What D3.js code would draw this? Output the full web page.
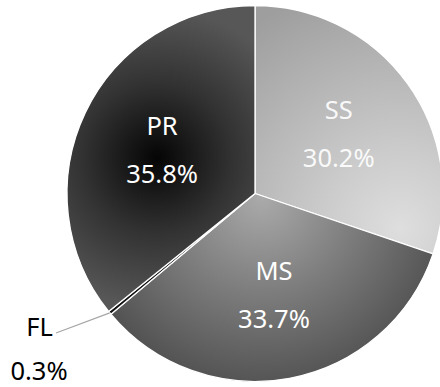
<!DOCTYPE html>
<html><head><meta charset="utf-8">
<script src="https://cdn.jsdelivr.net/npm/d3@7"></script>
<style>html,body{margin:0;padding:0;background:#fff;}svg{display:block;}</style>
</head><body>
<script>
const categories = ["SS", "MS", "FL", "PR"];
const values = [30.2, 33.7, 0.3, 35.8];
const valueLabels = ["30.2%", "33.7%", "0.3%", "35.8%"];

const W = 440, H = 387, cx = 255, cy = 193.5, R = 188;
const svg = d3.select("body").append("svg").attr("width", W).attr("height", H);
const defs = svg.append("defs");

// gradient centres in page pixels; converted to the pie's local space below
const grads = {
  SS: {x: 400, y: 228, r: 250, stops: [[0, "#dedede"], [0.3, "#cccccc"], [1, "#9e9e9e"]]},
  MS: {x: 262, y: 198, r: 215, stops: [[0, "#aaaaaa"], [0.45, "#7c7c7c"], [1, "#474747"]]},
  FL: {x: 110, y: 313, r: 100, stops: [[0, "#111"], [1, "#111"]]},
  PR: {x: 157, y: 158, r: 150, stops: [[0, "#050505"], [0.5, "#323232"], [1, "#575757"]]}
};
categories.forEach(c => {
  const g = grads[c];
  const rg = defs.append("radialGradient").attr("id", "g" + c)
    .attr("gradientUnits", "userSpaceOnUse")
    .attr("cx", g.x - cx).attr("cy", g.y - cy).attr("r", g.r);
  g.stops.forEach(s => rg.append("stop").attr("offset", s[0]).attr("stop-color", s[1]));
});

const data = categories.map((c, i) => ({cat: c, value: values[i], label: valueLabels[i]}));
const pie = d3.pie().sort(null).value(d => d.value).startAngle(0).endAngle(2 * Math.PI);
const arcs = pie(data);
const arc = d3.arc().innerRadius(0).outerRadius(R);
const labelArc = d3.arc().innerRadius(103).outerRadius(103);

const root = svg.append("g").attr("transform", `translate(${cx},${cy})`);
root.selectAll("path.slice").data(arcs).enter().append("path")
  .attr("class", "slice")
  .attr("d", arc)
  .attr("fill", d => `url(#g${d.data.cat})`)
  .attr("stroke", "#fff").attr("stroke-width", 1.3).attr("stroke-linejoin", "round");

const font = "'Noto Sans', 'Open Sans', sans-serif";
const inside = arcs.filter(d => d.data.cat !== "FL");
inside.forEach(d => {
  const [x, y] = labelArc.centroid(d);
  const fill = d.data.cat === "SS" ? "rgba(255,255,255,0.92)" : "#fff";
  root.append("text").attr("x", x).attr("y", y - 14.5)
    .attr("text-anchor", "middle").attr("font-family", font).attr("font-size", 25.5)
    .attr("fill", fill).text(d.data.cat);
  root.append("text").attr("x", x).attr("y", y + 33.5)
    .attr("text-anchor", "middle").attr("font-family", font).attr("font-size", 25.5)
    .attr("fill", fill).text(d.data.label);
});

// outside label for the tiny slice
const fl = arcs.find(d => d.data.cat === "FL");
const mid = (fl.startAngle + fl.endAngle) / 2;
const ex = R * Math.sin(mid), ey = -R * Math.cos(mid);
const page = svg.append("g");
page.append("line").attr("x1", 56).attr("y1", 333).attr("x2", cx + ex).attr("y2", cy + ey)
  .attr("stroke", "#a6a6a6").attr("stroke-width", 1.2);
page.append("text").attr("x", 39.5).attr("y", 336)
  .attr("text-anchor", "middle").attr("font-family", font).attr("font-size", 25.5)
  .attr("fill", "#000").text(fl.data.cat);
page.append("text").attr("x", 39).attr("y", 380)
  .attr("text-anchor", "middle").attr("font-family", font).attr("font-size", 25.5)
  .attr("fill", "#000").text(fl.data.label);
</script>
</body></html>
